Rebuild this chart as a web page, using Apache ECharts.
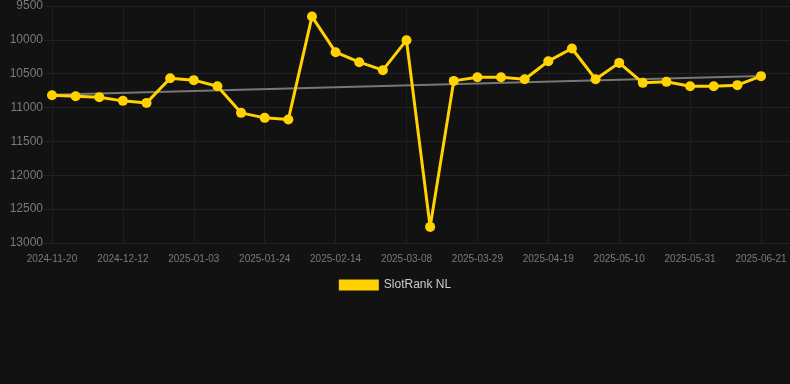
<!DOCTYPE html>
<html>
<head>
<meta charset="utf-8">
<script src="https://cdn.jsdelivr.net/npm/echarts@6/dist/echarts.min.js"></script>
<style>
html,body{margin:0;padding:0;background:#121212;}
#chart{width:790px;height:384px;}
</style>
</head>
<body>
<div id="chart"></div>
<script>
var categories = ['2024-11-20','2024-11-27','2024-12-04','2024-12-12','2024-12-19','2024-12-26',
  '2025-01-03','2025-01-10','2025-01-17','2025-01-24','2025-01-31','2025-02-07',
  '2025-02-14','2025-02-21','2025-02-28','2025-03-08','2025-03-15','2025-03-22',
  '2025-03-29','2025-04-05','2025-04-12','2025-04-19','2025-04-26','2025-05-03',
  '2025-05-10','2025-05-17','2025-05-24','2025-05-31','2025-06-07','2025-06-14','2025-06-21'];
var rankValues = [10817,10832,10846,10901,10931,10566,10595,10684,11078,11152,11177,9656,
  10182,10330,10448,10005,12762,10606,10551,10551,10581,10315,10128,10581,
  10340,10635,10620,10684,10684,10669,10536];
var trendEnds = [10810, 10535];
var yTicks = {min: 9500, max: 13000, interval: 500};
var seriesName = 'SlotRank NL';

var trendData = categories.map(function(c, i){
  if (i === 0) return trendEnds[0];
  if (i === categories.length - 1) return trendEnds[1];
  return null;
});

var font = 'Arial, Liberation Sans, sans-serif';
var chart = echarts.init(document.getElementById('chart'));
chart.setOption({
  backgroundColor: '#121212',
  animation: false,
  grid: [
    {left: 44, right: 0, top: 6, bottom: 141, containLabel: false, outerBoundsMode: 'none'},
    {left: 52, right: 29, top: 6, bottom: 141, containLabel: false, outerBoundsMode: 'none'}
  ],
  legend: {
    data: [seriesName],
    bottom: 88,
    left: 'center',
    itemWidth: 40,
    itemHeight: 11,
    icon: 'rect',
    textStyle: {color: '#cccccc', fontSize: 12, fontFamily: font}
  },
  xAxis: [
    {
      gridIndex: 0, type: 'value', min: 0, max: 1, show: false
    },
    {
      gridIndex: 1,
      type: 'category',
      data: categories,
      boundaryGap: false,
      axisLine: {show: false},
      axisTick: {show: false},
      axisLabel: {interval: 2, color: '#7a7a7a', fontSize: 10, margin: 11, fontFamily: font},
      splitLine: {show: true, interval: 2, lineStyle: {color: '#1e1e1e'}}
    }
  ],
  yAxis: [
    {
      gridIndex: 0,
      type: 'value',
      inverse: true,
      min: yTicks.min, max: yTicks.max, interval: yTicks.interval,
      axisLine: {show: false}, axisTick: {show: false}, axisLabel: {show: false},
      splitLine: {show: true, lineStyle: {color: '#222'}}
    },
    {
      gridIndex: 1,
      type: 'value',
      inverse: true,
      min: yTicks.min, max: yTicks.max, interval: yTicks.interval,
      axisLine: {show: false},
      axisTick: {show: false},
      axisLabel: {color: '#7a7a7a', fontSize: 12, margin: 9, fontFamily: font,
        formatter: function(v){ return String(v); }},
      splitLine: {show: false}
    }
  ],
  series: [
    {
      name: 'trend',
      type: 'line',
      xAxisIndex: 1, yAxisIndex: 1,
      data: trendData,
      connectNulls: true,
      showSymbol: false,
      symbol: 'none',
      lineStyle: {color: '#777', width: 2},
      z: 1,
      silent: true
    },
    {
      name: seriesName,
      type: 'line',
      xAxisIndex: 1, yAxisIndex: 1,
      data: rankValues,
      symbol: 'circle',
      symbolSize: 10,
      itemStyle: {color: '#ffd200'},
      lineStyle: {color: '#ffd200', width: 3},
      z: 2
    }
  ]
});
</script>
</body>
</html>
